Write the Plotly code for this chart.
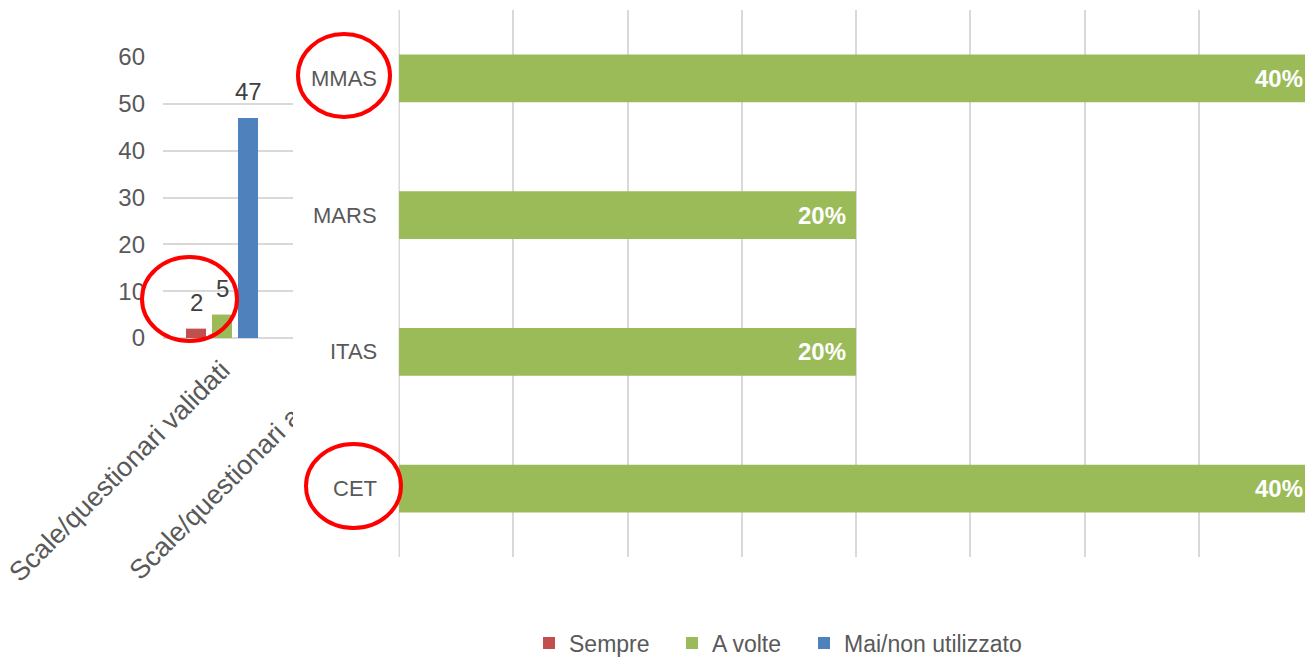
import plotly.graph_objects as go

# left chart: uso di scale/questionari
tools = ["Scale/questionari validati", "Scale/questionari ad hoc"]
sempre = [2, None]
a_volte = [5, None]
mai = [47, None]

# right chart: scale usate (A volte)
scales = ["MMAS", "MARS", "ITAS", "CET"]
scale_pct = [0.40, 0.20, 0.20, 0.40]

y_ticks = [0, 10, 20, 30, 40, 50, 60]

# the page body has an 8px margin, so the figure is drawn 8px smaller
OFF = 8
W, H = 1313 - OFF, 657 - OFF
RED, GREEN, BLUE = "#C0504D", "#9BBB59", "#4F81BD"
GRID = "#D9D9D9"
TXT = "#595959"
FONT = "Liberation Sans, Arial, sans-serif"


def fx(px):
    return (px - OFF) / W


def fy(py):
    return 1 - (py - OFF) / H


left_x0, left_x1 = 163, 399
px_cat = (left_x1 - left_x0) / len(tools)
bar_w = 20 / px_cat

fig = go.Figure()

# name, values, colour, bar offset (px from category centre), legend entry width
left_series = [("Sempre", sempre, RED, -36, 98),
               ("A volte", a_volte, GREEN, -10, 87),
               ("Mai/non utilizzato", mai, BLUE, 16, 200)]

for name, vals, col, off_px, lw in left_series:
    off = off_px / px_cat
    fig.add_trace(go.Bar(
        x=tools, y=vals, name=name,
        marker_color=col, marker_line_width=0,
        width=bar_w, offset=off, legendwidth=lw,
        xaxis="x", yaxis="y",
        hoverinfo="skip"))
    for cat, v in zip(tools, vals):
        if v is None:
            continue
        fig.add_annotation(
            x=cat, y=v, xref="x", yref="y",
            text=str(v), showarrow=False,
            xshift=(off + bar_w / 2) * px_cat,
            yanchor="bottom", yshift=11,
            font=dict(family=FONT, size=24, color="#404040"))

fig.add_trace(go.Bar(
    x=scale_pct, y=scales, orientation="h",
    marker_color=GREEN, marker_line_width=0,
    width=0.35, showlegend=False,
    xaxis="x2", yaxis="y2", hoverinfo="skip"))

for s, v in zip(scales, scale_pct):
    fig.add_annotation(
        x=v, y=s, xref="x2", yref="y2",
        text="<b>%d%%</b>" % round(v * 100), showarrow=False,
        xanchor="right", xshift=-8,
        font=dict(family=FONT, size=24, color="white"))
    fig.add_annotation(
        x=fx(379), y=s, xref="paper", yref="y2",
        text=s, showarrow=False, xanchor="right",
        font=dict(family=FONT, size=22, color=TXT))

# white block hiding the rest of the left chart (as in the pasted image)
shapes = [dict(type="rect", xref="paper", yref="paper",
               x0=fx(293), x1=fx(398.5), y0=0, y1=1,
               fillcolor="white", line_width=0, layer="above")]

# red highlight circles
for x0, x1, y0, y1 in [(298, 390, 34, 117), (142, 237, 257, 341), (306, 401, 444, 528)]:
    shapes.append(dict(type="circle", xref="paper", yref="paper",
                       x0=fx(x0), x1=fx(x1), y0=fy(y1), y1=fy(y0),
                       line=dict(color="#FF0000", width=4), layer="above"))

fig.update_layout(
    template="none",
    width=W, height=H,
    margin=dict(l=0, r=0, t=0, b=0, autoexpand=False),
    paper_bgcolor="white", plot_bgcolor="white",
    barmode="group",
    font=dict(family=FONT, color=TXT),
    shapes=shapes,
    xaxis=dict(domain=[fx(left_x0), fx(left_x1)], type="category",
               categoryarray=tools, range=[-0.5, 1.5],
               tickangle=-45, showgrid=False, showline=False, zeroline=False,
               ticks="", ticklabelstandoff=10, automargin=False,
               tickfont=dict(family=FONT, size=27, color=TXT),
               anchor="y"),
    yaxis=dict(domain=[fy(338), fy(57)], range=[0, 60], tickvals=y_ticks,
               showgrid=True, gridcolor=GRID, gridwidth=1.5,
               zeroline=True, zerolinecolor=GRID, zerolinewidth=1.5,
               showline=False, ticks="", ticklabelstandoff=17, automargin=False,
               tickfont=dict(family=FONT, size=24, color=TXT),
               anchor="x"),
    xaxis2=dict(domain=[fx(399), 1], range=[0, 0.4], dtick=0.05,
                showgrid=True, gridcolor=GRID, gridwidth=1.5,
                zeroline=True, zerolinecolor=GRID, zerolinewidth=1.5,
                showline=False, showticklabels=False, ticks="",
                automargin=False, anchor="y2"),
    yaxis2=dict(domain=[fy(557), fy(10)], type="category",
                categoryarray=scales, range=[3.5, -0.5],
                showticklabels=False, showgrid=False, zeroline=False,
                showline=False, ticks="", automargin=False, anchor="x2"),
    legend=dict(orientation="h", x=fx(529), xanchor="left",
                y=fy(643), yanchor="middle",
                bgcolor="rgba(0,0,0,0)",
                font=dict(family=FONT, size=23, color=TXT),
                itemclick=False),
)

fig.write_html("out.html")
